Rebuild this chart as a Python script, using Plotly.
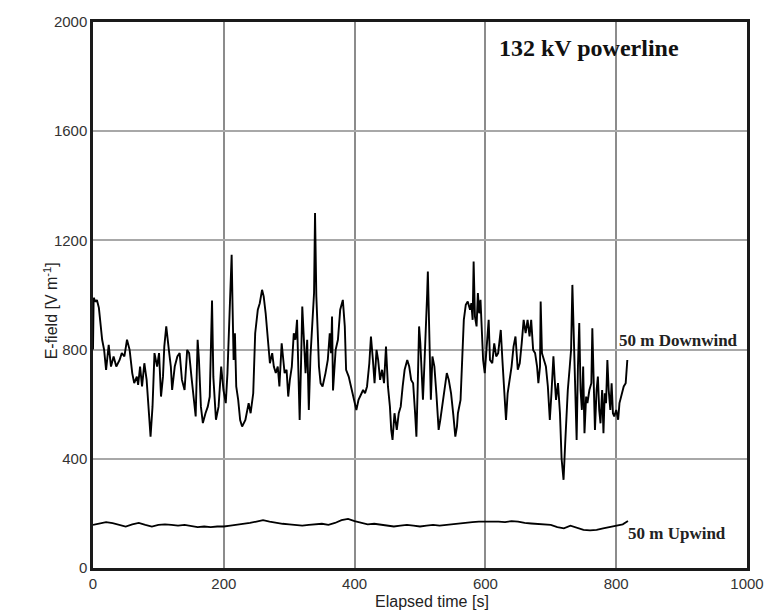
import plotly.graph_objects as go

# ---- data ----
time_down = [0, 1, 4, 6, 9, 14, 17, 20, 24, 27.5, 31.5, 35.6, 40.7, 44, 48, 52, 56, 60, 63, 67, 69, 72, 75,
             78.5, 82, 85, 88, 91, 94, 98, 101, 104, 107, 109, 112, 116, 119, 121, 125, 129, 132.5, 136, 140,
             144, 147, 150.5, 154, 157, 160, 162, 165, 168, 172, 175.5, 178.5, 182, 184, 188, 192, 196,
             199.5, 203, 205.6, 207.5, 210, 212, 213.5, 215, 217, 219, 222, 225, 228, 233, 238, 241, 245,
             248, 252, 255, 258.5, 261, 264, 267.5, 270.5, 274, 276.5, 279.5, 282.5, 285, 288.5, 291, 293,
             296, 298.5, 301, 304, 307, 309.5, 312, 314, 316, 318, 320, 322, 325, 327.5, 330, 332.5, 335,
             338, 339.5, 341.5, 343.5, 345.5, 348, 351, 355.5, 359, 362, 364, 365.5, 367, 371, 374.5, 378,
             382, 385, 387, 391, 394.5, 398.5, 402.7, 406, 410, 413, 416, 419, 422.5, 425, 428, 430.5,
             433.5, 436, 439, 442, 445, 448, 451, 454, 456, 458, 461, 464.5, 467.5, 470.5, 473.5, 476.5,
             480.5, 483.5, 486.5, 489.5, 492.5, 494.5, 496.5, 498.6, 500.5, 502.5, 504.5, 507, 509, 511,
             512, 514, 516.6, 519, 522, 525, 528.5, 531, 534, 537.5, 541, 544, 547.5, 551, 554, 556.5, 558,
             562, 565, 567, 570, 573, 576.5, 578.5, 580.5, 582, 584, 586.5, 588.5, 590.5, 592.5, 594.5,
             596.5, 599, 602, 605, 607, 610.5, 613.5, 616.5, 619.5, 623.5, 626, 628.5, 631.5, 634, 637,
             640, 643, 646, 649.5, 652.5, 655.5, 658.5, 661.5, 664.5, 667.5, 670, 673, 676, 679, 681,
             683.5, 684.5, 686.5, 689.5, 692.5, 695.5, 698.5, 701, 704, 706, 708, 711, 714, 716.5, 719.5,
             722, 726, 729, 731, 733, 735, 737, 739.5, 741.5, 743.5, 745.5, 747.5, 749.5, 751.5, 754, 756,
             759, 762, 763.5, 765.5, 767.5, 770, 772, 774, 776, 778.5, 780.5, 782.5, 784.5, 786.5, 788.5,
             791, 793, 795, 797, 800, 803, 805, 808.5, 811.5, 814.5, 817]
efield_down = [800, 990, 975, 982, 953, 836, 799, 726, 817, 738, 775, 738, 762, 787, 775, 836, 799, 714, 677,
               701, 671, 738, 665, 750, 689, 591, 481, 591, 787, 738, 787, 628, 701, 811, 885, 799, 738,
               652, 738, 775, 787, 689, 652, 799, 787, 701, 628, 555, 836, 762, 591, 531, 567, 591, 628,
               980, 700, 543, 591, 738, 652, 604, 714, 836, 982, 1147, 946, 762, 860, 665, 616, 542, 518,
               542, 604, 567, 640, 860, 946, 970, 1019, 995, 933, 836, 750, 787, 738, 714, 738, 665, 823,
               762, 714, 726, 628, 689, 738, 860, 836, 909, 701, 542, 738, 958, 860, 714, 836, 579, 775,
               884, 1007, 1300, 995, 872, 738, 677, 665, 714, 762, 860, 787, 921, 650, 799, 836, 946, 982,
               885, 726, 701, 665, 628, 579, 616, 640, 652, 640, 665, 750, 848, 762, 677, 799, 762, 689,
               726, 677, 811, 665, 591, 506, 469, 567, 506, 567, 591, 665, 726, 762, 738, 689, 677, 567,
               481, 665, 885, 823, 714, 616, 762, 860, 1007, 1086, 885, 616, 775, 738, 640, 506, 542, 591,
               665, 714, 689, 640, 560, 481, 518, 567, 616, 762, 909, 964, 976, 946, 970, 909, 1123, 921,
               885, 1007, 933, 982, 872, 762, 714, 811, 909, 762, 750, 823, 775, 787, 872, 762, 665, 542,
               640, 689, 738, 811, 848, 726, 750, 823, 909, 860, 909, 848, 909, 799, 787, 738, 677, 738,
               976, 787, 762, 738, 665, 542, 640, 775, 689, 616, 677, 567, 400, 323, 457, 652, 738, 799,
               1037, 860, 616, 469, 738, 897, 652, 579, 738, 494, 628, 604, 652, 677, 878, 652, 506, 652,
               701, 579, 530, 652, 494, 640, 604, 762, 652, 579, 677, 567, 555, 579, 543, 604, 640, 665,
               677, 762]

time_up = [0, 10, 20, 30, 40, 50, 60, 70, 80, 90, 100, 110, 120, 130, 140, 150, 160, 170, 180, 190, 200,
           210, 220, 230, 240, 250, 260, 270, 280, 290, 300, 310, 320, 330, 340, 350, 360, 370, 380, 390,
           400, 410, 420, 430, 440, 450, 460, 470, 480, 490, 500, 510, 520, 530, 540, 550, 560, 570, 580,
           590, 600, 610, 620, 630, 640, 650, 660, 670, 680, 690, 700, 710, 720, 730, 740, 750, 760, 770,
           780, 790, 800, 810, 818]
efield_up = [158, 162, 168, 164, 158, 152, 160, 165, 158, 152, 158, 160, 158, 155, 158, 155, 150, 152, 150,
             152, 152, 155, 158, 160, 165, 170, 175, 170, 165, 162, 160, 158, 155, 158, 160, 162, 158, 165,
             175, 180, 172, 165, 160, 162, 158, 155, 152, 155, 158, 155, 152, 155, 158, 155, 158, 160, 162,
             165, 168, 170, 170, 172, 170, 168, 172, 170, 165, 163, 162, 160, 158, 150, 145, 155, 148, 140,
             138, 140, 145, 150, 155, 160, 172]

x_ticks = [0, 200, 400, 600, 800, 1000]
y_ticks = [0, 400, 800, 1200, 1600, 2000]

title_text = "132 kV powerline"
label_down = "50 m Downwind"
label_up = "50 m Upwind"

fig = go.Figure()
fig.add_trace(go.Scatter(x=time_down, y=efield_down, mode="lines",
                         line=dict(color="black", width=1.9), showlegend=False))
fig.add_trace(go.Scatter(x=time_up, y=efield_up, mode="lines",
                         line=dict(color="black", width=1.8), showlegend=False))

serif = "Liberation Serif, Times New Roman, serif"
sans = "Liberation Sans, Arial, sans-serif"

fig.add_annotation(x=617, y=1906, text="<b>" + title_text + "</b>", showarrow=False,
                   xanchor="left", yanchor="middle", font=dict(family=serif, size=24, color="#111"))
fig.add_annotation(x=801, y=832, text="<b>" + label_down + "</b>", showarrow=False,
                   xanchor="left", yanchor="middle", font=dict(family=serif, size=17, color="#222"))
fig.add_annotation(x=815, y=125, text="<b>" + label_up + "</b>", showarrow=False,
                   xanchor="left", yanchor="middle", font=dict(family=serif, size=17, color="#222"))

fig.add_annotation(xref="paper", yref="paper", x=0.519, y=-0.062, text="Elapsed time [s]",
                   showarrow=False, xanchor="center", yanchor="middle",
                   font=dict(family=sans, size=16, color="#222"))
fig.add_annotation(xref="paper", yref="paper", x=-0.065, y=0.471, text="E-field [V m<sup>-1</sup>]",
                   showarrow=False, xanchor="center", yanchor="middle", textangle=-90,
                   font=dict(family=sans, size=16, color="#222"))

fig.update_layout(
    width=767, height=613,
    margin=dict(l=93, r=20, t=22, b=45, autoexpand=False),
    paper_bgcolor="white", plot_bgcolor="white",
    xaxis=dict(range=[0, 1000], tickvals=x_ticks, ticktext=[str(v) for v in x_ticks],
               showgrid=True, gridcolor="#8c8c8c", gridwidth=1.5, zeroline=False,
               showline=True, mirror=True, linecolor="#1a1a1a", linewidth=2.5, ticks="",
               automargin=False,
               tickfont=dict(family=sans, size=15, color="#333")),
    yaxis=dict(range=[0, 2000], tickvals=y_ticks, ticktext=[str(v) for v in y_ticks],
               showgrid=True, gridcolor="#a8a8a8", gridwidth=1.8, zeroline=False,
               showline=True, mirror=True, linecolor="#1a1a1a", linewidth=2.5, ticks="",
               automargin=False,
               tickfont=dict(family=sans, size=15, color="#333")),
)

fig.write_html("out.html", config={"displayModeBar": False},
               post_script="document.body.style.margin='0';document.body.style.overflow='hidden';")
